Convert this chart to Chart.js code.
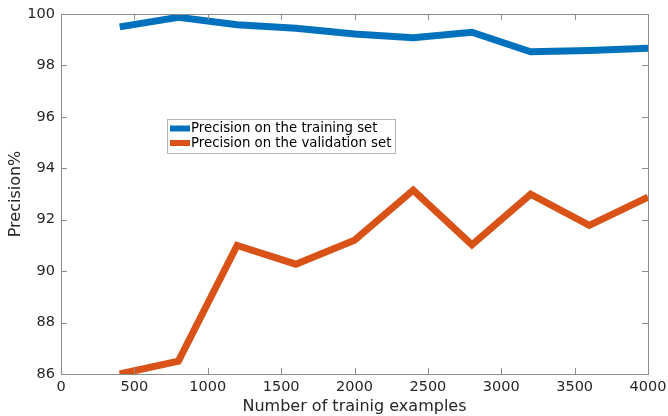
<!DOCTYPE html>
<html lang="en">
<head>
    <meta charset="UTF-8">
    <title>Precision vs training examples</title>
    <script src="https://cdn.jsdelivr.net/npm/chart.js"></script>
    <style>
        html, body { margin: 0; padding: 0; background: #fff; }
        #wrap { width: 668px; height: 416px; }
    </style>
</head>
<body>
    <div id="wrap"><canvas id="precision-chart"></canvas></div>

    <script>
        // number of training examples
        const examples = [400, 800, 1200, 1600, 2000, 2400, 2800, 3200, 3600, 4000];
        const trainPrecision = [99.5, 99.87, 99.58, 99.45, 99.22, 99.08, 99.29, 98.53, 98.58, 98.67];
        const validPrecision = [86.0, 86.5, 91.0, 90.27, 91.2, 93.15, 91.02, 92.99, 91.78, 92.88];

        const xTicks = [0, 500, 1000, 1500, 2000, 2500, 3000, 3500, 4000];
        const yTicks = [86, 88, 90, 92, 94, 96, 98, 100];

        const seriesNames = ['Precision on the training set', 'Precision on the validation set'];
        const seriesColors = ['#0072BD', '#D95319'];

        const textColor = '#262626';
        const axisColor = '#8c8c8c';
        const fontFamily = '"DejaVu Sans", sans-serif';

        function toPoints(xs, ys) {
            return xs.map((x, i) => ({ x: x, y: ys[i] }));
        }

        // MATLAB-like box with inward ticks, plus the legend inside the axes
        const boxPlugin = {
            id: 'boxPlugin',
            afterDraw(chart) {
                const ctx = chart.ctx;
                const area = chart.chartArea;
                const xs = chart.scales.x;
                const ys = chart.scales.y;
                const tl = 6;

                ctx.save();
                ctx.strokeStyle = axisColor;
                ctx.lineWidth = 1;
                ctx.strokeRect(Math.round(area.left) + 0.5, Math.round(area.top) + 0.5,
                    Math.round(area.right - area.left), Math.round(area.bottom - area.top));

                ctx.beginPath();
                xTicks.forEach(v => {
                    const px = Math.round(xs.getPixelForValue(v)) + 0.5;
                    ctx.moveTo(px, area.bottom);
                    ctx.lineTo(px, area.bottom - tl);
                    ctx.moveTo(px, area.top);
                    ctx.lineTo(px, area.top + tl);
                });
                yTicks.forEach(v => {
                    const py = Math.round(ys.getPixelForValue(v)) + 0.5;
                    ctx.moveTo(area.left, py);
                    ctx.lineTo(area.left + tl, py);
                    ctx.moveTo(area.right, py);
                    ctx.lineTo(area.right - tl, py);
                });
                ctx.stroke();

                // legend
                const lx = 167.5, ly = 119.5, lw = 228, lh = 34;
                ctx.fillStyle = '#fff';
                ctx.fillRect(lx, ly, lw, lh);
                ctx.strokeStyle = '#b4b4b4';
                ctx.strokeRect(lx, ly, lw, lh);

                ctx.font = '13.3px ' + fontFamily;
                ctx.textBaseline = 'middle';
                ctx.textAlign = 'left';
                seriesNames.forEach((name, i) => {
                    const cy = 128.5 + i * 14.5;
                    ctx.strokeStyle = seriesColors[i];
                    ctx.lineWidth = 6;
                    ctx.beginPath();
                    ctx.moveTo(170, cy);
                    ctx.lineTo(190, cy);
                    ctx.stroke();
                    ctx.fillStyle = '#000';
                    ctx.fillText(name, 191, cy + 0.5);
                });
                ctx.restore();
            }
        };

        const ctx = document.getElementById('precision-chart').getContext('2d');
        new Chart(ctx, {
            type: 'line',
            data: {
                datasets: [{
                    label: seriesNames[0],
                    data: toPoints(examples, trainPrecision),
                    borderColor: seriesColors[0],
                    borderWidth: 7,
                    pointRadius: 0,
                    tension: 0
                }, {
                    label: seriesNames[1],
                    data: toPoints(examples, validPrecision),
                    borderColor: seriesColors[1],
                    borderWidth: 7,
                    pointRadius: 0,
                    tension: 0
                }]
            },
            options: {
                responsive: true,
                maintainAspectRatio: false,
                animation: false,
                layout: {
                    padding: { top: 14, right: 20, left: 0, bottom: 0 }
                },
                plugins: {
                    legend: { display: false },
                    tooltip: { enabled: false }
                },
                scales: {
                    x: {
                        type: 'linear',
                        min: 0,
                        max: 4000,
                        grid: { display: false, drawTicks: false },
                        border: { display: false },
                        afterBuildTicks: s => { s.ticks = xTicks.map(v => ({ value: v })); },
                        afterFit: s => {
                            s.height = 42;
                            s.paddingLeft = 0;
                            s.paddingRight = 0;
                        },
                        ticks: {
                            color: textColor,
                            padding: 5,
                            maxRotation: 0,
                            callback: v => String(v),
                            font: { family: fontFamily, size: 14.5 }
                        },
                        title: {
                            display: true,
                            text: 'Number of trainig examples',
                            color: textColor,
                            padding: { top: 0, bottom: 0 },
                            font: { family: fontFamily, size: 16 }
                        }
                    },
                    y: {
                        min: 86,
                        max: 100,
                        grid: { display: false, drawTicks: false },
                        border: { display: false },
                        afterBuildTicks: s => { s.ticks = yTicks.map(v => ({ value: v })); },
                        afterFit: s => {
                            s.width = 61;
                            s.paddingTop = 0;
                            s.paddingBottom = 0;
                        },
                        ticks: {
                            color: textColor,
                            padding: 6,
                            callback: v => String(v),
                            font: { family: fontFamily, size: 14.5 }
                        },
                        title: {
                            display: true,
                            text: 'Precision%',
                            color: textColor,
                            padding: { top: 6, bottom: 0 },
                            font: { family: fontFamily, size: 16 }
                        }
                    }
                }
            },
            plugins: [boxPlugin]
        });
    </script>
</body>
</html>
